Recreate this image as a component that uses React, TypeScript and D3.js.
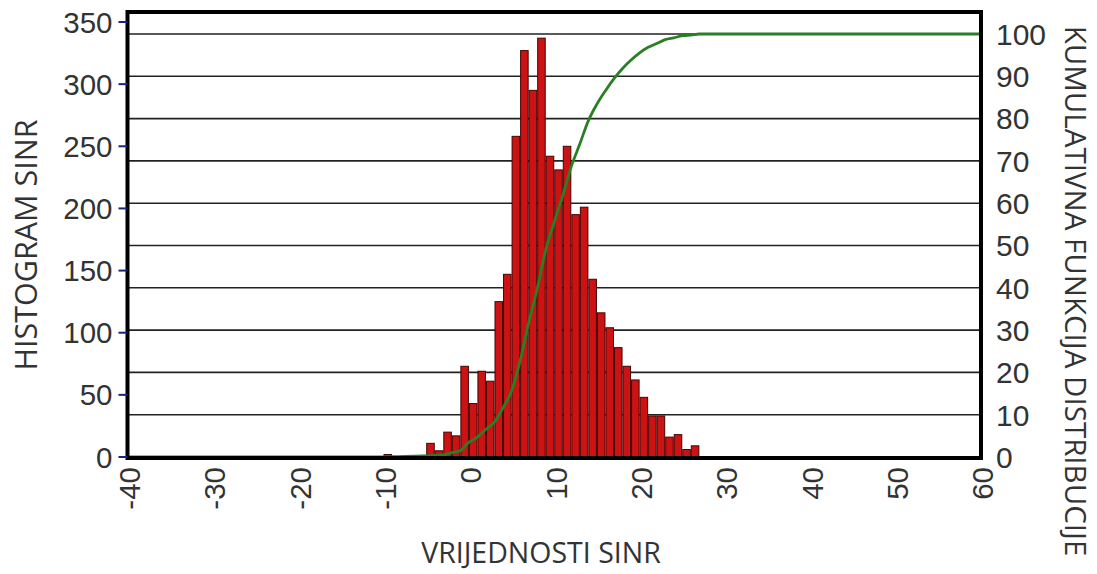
import React from 'react';
import * as d3 from 'd3';

// histogram bins (left edge, 1 dB wide) and counts
const binStarts = [-10, -5, -4, -3, -2, -1, 0, 1, 2, 3, 4, 5, 6, 7, 8, 9, 10, 11, 12, 13, 14, 15, 16, 17, 18, 19, 20, 21, 22, 23, 24, 25, 26];
const counts = [2, 11, 5, 20, 17, 73, 43, 69, 61, 125, 147, 258, 327, 295, 337, 242, 231, 250, 195, 201, 143, 116, 104, 88, 73, 62, 48, 33, 33, 16, 18, 6, 9];

const xTicks = [-40, -30, -20, -10, 0, 10, 20, 30, 40, 50, 60];
const leftTicks = [0, 50, 100, 150, 200, 250, 300, 350];
const rightTicks = [0, 10, 20, 30, 40, 50, 60, 70, 80, 90, 100];

const W = 1097;
const H = 574;
const frame = { left: 127.5, right: 981, top: 12, bottom: 458 };

const App = () => {
  const x = d3.scaleLinear().domain([-40, 60]).range([frame.left, frame.right]);
  const yL = d3.scaleLinear().domain([0, 350]).range([457, 22]);
  const yR = d3.scaleLinear().domain([0, 100]).range([457, 34]);

  // cumulative distribution from the histogram counts
  const total = d3.sum(counts);
  let run = 0;
  const cdf: [number, number][] = [[-40, 0], [binStarts[0], 0]];
  binStarts.forEach((b, i) => {
    run += counts[i];
    cdf.push([b + 1, (run / total) * 100]);
  });
  cdf.push([60, 100]);

  const line = d3.line<[number, number]>()
    .x(d => x(d[0]))
    .y(d => yR(d[1]))
    .curve(d3.curveMonotoneX);

  const numFont = '"Liberation Sans", Arial, sans-serif';
  const titleFont = '"Open Sans", sans-serif';

  return (
    <svg width={W} height={H} style={{ position: 'absolute', left: 0, top: 0, background: '#fff' }}>
      {/* gridlines from the right axis */}
      {rightTicks.slice(1).map(t => (
        <line key={t} x1={frame.left} x2={frame.right} y1={yR(t)} y2={yR(t)} stroke="#222" strokeWidth={1.6} />
      ))}

      {/* bars */}
      {binStarts.map((b, i) => (
        <rect key={b}
          x={x(b) + 0.5}
          y={yL(counts[i])}
          width={Math.max(0, x(b + 1) - x(b) - 1)}
          height={yL(0) - yL(counts[i])}
          fill="#cc1212" stroke="#420505" strokeWidth={1} />
      ))}

      {/* cumulative curve */}
      <path d={line(cdf) || ''} fill="none" stroke="#2a7f24" strokeWidth={2.8} />

      {/* frame */}
      <rect x={frame.left} y={frame.top} width={frame.right - frame.left} height={frame.bottom - frame.top}
        fill="none" stroke="#000" strokeWidth={4} />

      {/* left axis */}
      {leftTicks.map(t => (
        <g key={t}>
          <line x1={frame.left - 9} x2={frame.left} y1={yL(t)} y2={yL(t)} stroke="#1a237e" strokeWidth={2} />
          <text x={frame.left - 15} y={yL(t)} dy="0.36em" textAnchor="end" fontFamily={numFont} fontSize={29.5} fill="#333">{t}</text>
        </g>
      ))}

      {/* right axis */}
      {rightTicks.map(t => (
        <text key={t} x={996} y={yR(t)} dy="0.36em" textAnchor="start" fontFamily={numFont} fontSize={30} fill="#333">{t}</text>
      ))}

      {/* x axis */}
      {xTicks.map(t => (
        <text key={t} transform={`translate(${x(t)},${frame.bottom + 9}) rotate(-90)`} dy="0.42em" textAnchor="end"
          fontFamily={numFont} fontSize={29.5} fill="#333">{t}</text>
      ))}

      {/* titles */}
      <text x={541} y={563} textAnchor="middle" fontFamily={titleFont} fontSize={28.5} fill="#333">VRIJEDNOSTI SINR</text>
      <text transform="translate(37,245) rotate(-90)" textAnchor="middle" fontFamily={titleFont} fontSize={30.5} fill="#333">HISTOGRAM SINR</text>
      <text transform="translate(1065,291) rotate(90)" textAnchor="middle" fontFamily={titleFont} fontSize={29.5} fill="#333">KUMULATIVNA FUNKCIJA DISTRIBUCIJE</text>
    </svg>
  );
};

export default App;
